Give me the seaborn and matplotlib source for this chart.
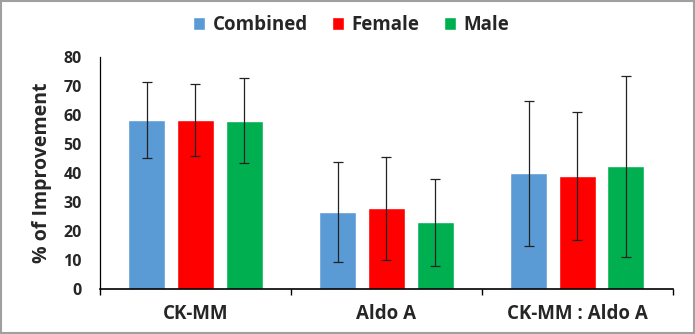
import matplotlib
matplotlib.use("Agg")
import matplotlib.pyplot as plt
import seaborn as sns
import pandas as pd
import numpy as np

categories = ["CK-MM", "Aldo A", "CK-MM : Aldo A"]
groups = ["Combined", "Female", "Male"]
combined_vals = [58.3, 26.6, 39.9]
female_vals = [58.3, 27.8, 39.0]
male_vals = [58.0, 23.0, 42.4]
combined_err = [13.1, 17.3, 25.0]
female_err = [12.3, 17.9, 22.0]
male_err = [14.7, 15.0, 31.2]
y_ticks = [0, 10, 20, 30, 40, 50, 60, 70, 80]

colors = {"Combined": "#5B9BD5", "Female": "#FF0000", "Male": "#00B050"}

rows = []
for g, vals, errs in [("Combined", combined_vals, combined_err),
                      ("Female", female_vals, female_err),
                      ("Male", male_vals, male_err)]:
    for c, v, e in zip(categories, vals, errs):
        rows.append({"cat": c, "group": g, "value": v, "err": e})
df = pd.DataFrame(rows)

sns.set_theme(style="white")
plt.rcParams["font.family"] = ["Open Sans", "DejaVu Sans"]
plt.rcParams["font.weight"] = "bold"

fig = plt.figure(figsize=(6.95, 3.34), dpi=100)
ax = fig.add_axes([0.1439, 0.1347, 0.968 - 0.1439, 0.829 - 0.1347])

sns.barplot(data=df, x="cat", y="value", hue="group", order=categories,
            hue_order=groups, palette=colors, width=0.765, gap=0.24,
            errorbar=None, ax=ax, saturation=1, legend=True)

# error bars at bar centres
for i, g in enumerate(groups):
    cont = ax.containers[i]
    sub = df[df["group"] == g].set_index("cat").loc[categories]
    xs = [p.get_x() + p.get_width() / 2 for p in cont.patches]
    ax.errorbar(xs, sub["value"].values, yerr=sub["err"].values, fmt="none",
                ecolor="#222222", elinewidth=0.9, capsize=3.5, capthick=0.9)

ax.set_ylim(0, 80)
ax.set_xlim(-0.5, 2.5)
ax.set_yticks(y_ticks)
ax.set_yticklabels([str(t) for t in y_ticks], fontsize=11.5, fontweight="bold")
ax.tick_params(axis="y", length=0, pad=13)
ax.set_xticks([0, 1, 2])
ax.set_xticklabels(categories, fontsize=13.5, fontweight="bold")
ax.set_xticks([-0.5, 0.5, 1.5, 2.5], minor=True)
ax.tick_params(axis="x", which="major", length=0, pad=11)
ax.tick_params(axis="x", which="minor", length=4, width=1, direction="out", color="black", bottom=True)
ax.set_xlabel("")
ax.set_ylabel("% of Improvement", fontsize=14, fontweight="bold", labelpad=8)

for s in ["top", "right"]:
    ax.spines[s].set_visible(False)
ax.spines["left"].set_color("black")
ax.spines["bottom"].set_color("black")
ax.spines["left"].set_linewidth(0.9)
ax.spines["bottom"].set_linewidth(1.2)

handles, labels = ax.get_legend_handles_labels()
ax.legend(handles, labels, loc="center", bbox_to_anchor=(351 / 695, 1 - 25 / 334),
          bbox_transform=fig.transFigure, ncol=3, frameon=False,
          prop={"size": 13.5, "weight": "bold"}, handlelength=0.65, handleheight=0.65,
          handletextpad=0.4, columnspacing=1.3)

# figure border
fig.patches.append(plt.Rectangle((0.001, 0.002), 0.997, 0.995, transform=fig.transFigure,
                                 fill=False, edgecolor="#a0a0a0", linewidth=1.5))

fig.savefig("out.png", dpi=100)
